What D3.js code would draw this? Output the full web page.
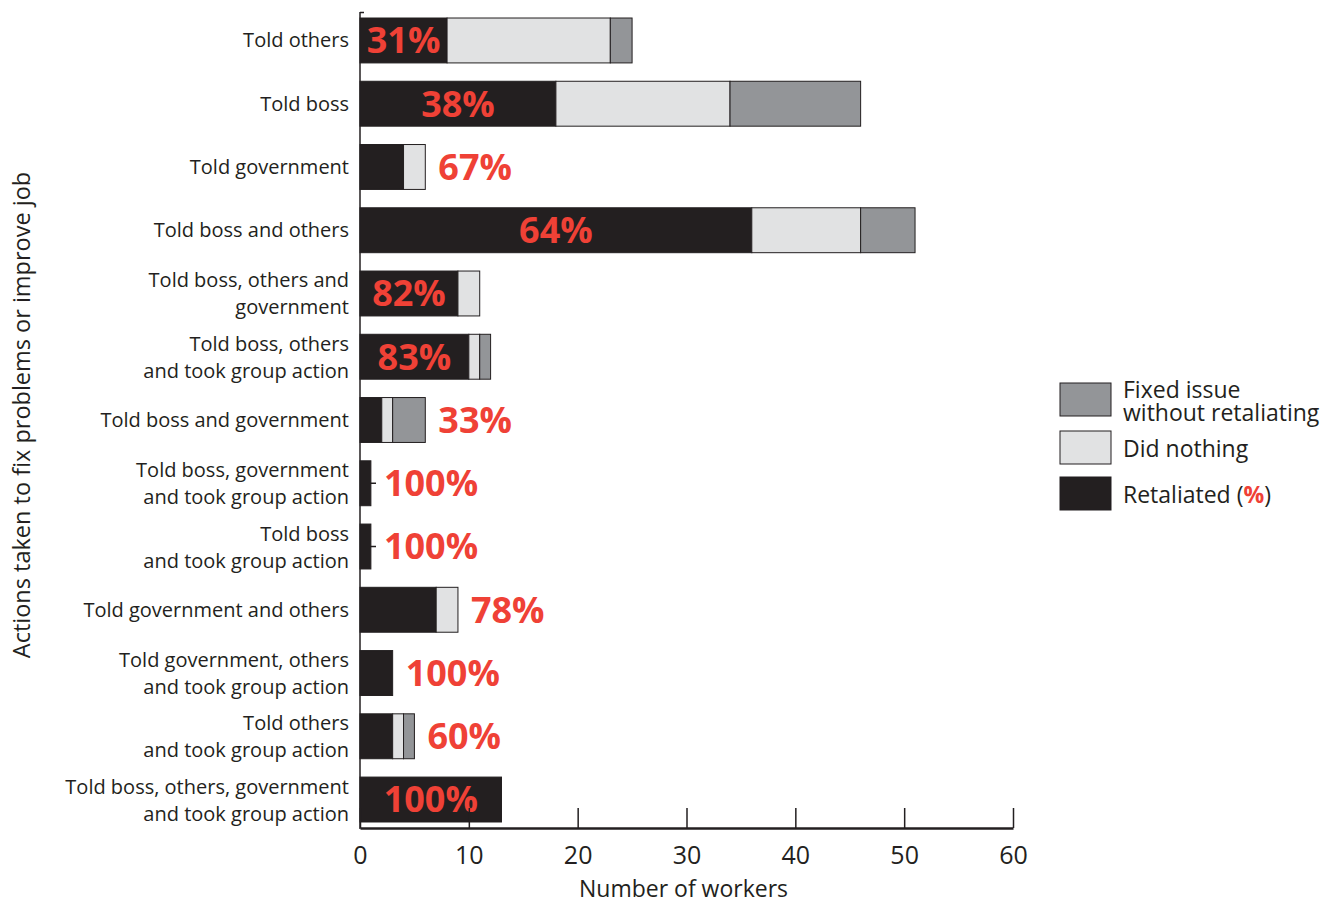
<!DOCTYPE html>
<html>
<head>
<meta charset="utf-8">
<script src="https://cdn.jsdelivr.net/npm/d3@7"></script>
<style>
  body { margin: 0; background: #fff; }
  svg text { font-family: "Open Sans", "Noto Sans", sans-serif; fill: #231f20; }
</style>
</head>
<body>
<svg id="chart" width="1342" height="905"></svg>
<script>
let categories = [
    ["Told others"],
    ["Told boss"],
    ["Told government"],
    ["Told boss and others"],
    ["Told boss, others and", "government"],
    ["Told boss, others", "and took group action"],
    ["Told boss and government"],
    ["Told boss, government", "and took group action"],
    ["Told boss", "and took group action"],
    ["Told government and others"],
    ["Told government, others", "and took group action"],
    ["Told others", "and took group action"],
    ["Told boss, others, government", "and took group action"]
];
let retaliated = [8, 18, 4, 36, 9, 10, 2, 1, 1, 7, 3, 3, 13];
let didNothing = [15, 16, 2, 10, 2, 1, 1, 0, 0, 2, 0, 1, 0];
let fixedIssue = [2, 12, 0, 5, 0, 1, 3, 0, 0, 0, 0, 1, 0];
let pctLabels = ["31%", "38%", "67%", "64%", "82%", "83%", "33%", "100%", "100%", "78%", "100%", "60%", "100%"];
let xTicks = [0, 10, 20, 30, 40, 50, 60];

let black = '#231f20';
let light = '#e1e2e3';
let mid = '#939598';
let red = '#ef4136';

let svg = d3.select('#chart');

let keys = categories.map((c, i) => i);

let x = d3.scaleLinear().domain([0, 60]).range([360, 1013]);
let y = d3.scaleBand()
    .domain(keys)
    .range([12, 828])
    .paddingInner(0.29)
    .paddingOuter(0.095);

// y axis ticks (hidden behind bars mostly)
svg.append('g')
    .selectAll('line')
    .data(keys)
    .enter()
    .append('line')
    .attr('x1', x(0))
    .attr('x2', x(0) + 16)
    .attr('y1', d => y(d) + y.bandwidth() / 2)
    .attr('y2', d => y(d) + y.bandwidth() / 2)
    .attr('stroke', black)
    .attr('stroke-width', 1.5);

let rows = keys.map(i => ({
    i: i,
    segs: [
        {x0: 0, x1: retaliated[i], fill: black},
        {x0: retaliated[i], x1: retaliated[i] + didNothing[i], fill: light},
        {x0: retaliated[i] + didNothing[i], x1: retaliated[i] + didNothing[i] + fixedIssue[i], fill: mid}
    ].filter(s => s.x1 > s.x0)
}));

let barG = svg.append('g')
    .selectAll('g')
    .data(rows)
    .enter()
    .append('g');

barG.selectAll('rect')
    .data(d => d.segs.map(s => Object.assign({i: d.i}, s)))
    .enter()
    .append('rect')
    .attr('x', d => x(d.x0))
    .attr('y', d => y(d.i))
    .attr('width', d => x(d.x1) - x(d.x0))
    .attr('height', y.bandwidth())
    .attr('fill', d => d.fill)
    .attr('stroke', black)
    .attr('stroke-width', 1);

// percent labels
let inside = i => x(retaliated[i]) - x(0) >= 80;
svg.append('g')
    .selectAll('text')
    .data(keys)
    .enter()
    .append('text')
    .attr('x', i => inside(i)
        ? (x(0) + x(retaliated[i])) / 2
        : x(retaliated[i] + didNothing[i] + fixedIssue[i]) + 13)
    .attr('text-anchor', i => inside(i) ? 'middle' : 'start')
    .attr('y', i => y(i) + y.bandwidth() / 2)
    .attr('dy', '0.36em')
    .style('fill', red)
    .style('font-weight', 'bold')
    .style('font-size', '36px')
    .text(i => pctLabels[i]);

// category labels
let catText = svg.append('g')
    .selectAll('text')
    .data(keys)
    .enter()
    .append('text')
    .attr('text-anchor', 'end')
    .style('font-size', '20px')
    .attr('y', i => y(i) + y.bandwidth() / 2);

catText.selectAll('tspan')
    .data(i => categories[i].map((t, j) => ({t: t, j: j, n: categories[i].length})))
    .enter()
    .append('tspan')
    .attr('x', 349)
    .attr('dy', d => d.j === 0 ? (d.n === 1 ? '0.35em' : '-0.3em') : '1.35em')
    .text(d => d.t);

// axes lines
svg.append('line')
    .attr('x1', x(0)).attr('x2', x(0))
    .attr('y1', 12).attr('y2', 829)
    .attr('stroke', black).attr('stroke-width', 1.5);
svg.append('line')
    .attr('x1', x(0)).attr('x2', x(0) + 4)
    .attr('y1', 12.5).attr('y2', 12.5)
    .attr('stroke', black).attr('stroke-width', 1.5);

let xAxis = d3.axisBottom(x)
    .tickValues(xTicks)
    .tickSize(-20)
    .tickSizeOuter(0)
    .tickPadding(18);

let xg = svg.append('g')
    .attr('transform', 'translate(0,828)')
    .call(xAxis);
xg.select('.domain').attr('stroke', black).attr('stroke-width', 2.5);
xg.selectAll('.tick line').attr('stroke', black).attr('stroke-width', 1.5);
xg.selectAll('.tick text')
    .style('font-size', '25px')
    .style('font-family', '"Open Sans", sans-serif')
    .attr('fill', black);

svg.append('text')
    .attr('x', x(30) - 3)
    .attr('y', 897)
    .attr('text-anchor', 'middle')
    .style('font-size', '23px')
    .text('Number of workers');

svg.append('text')
    .attr('transform', 'translate(30,415) rotate(-90)')
    .attr('text-anchor', 'middle')
    .style('font-size', '23.5px')
    .text('Actions taken to fix problems or improve job');

// legend
let legend = [
    {fill: mid, lines: ['Fixed issue', 'without retaliating'], y: 383},
    {fill: light, lines: ['Did nothing'], y: 431},
    {fill: black, lines: ['Retaliated ('], y: 477}
];

let lg = svg.append('g')
    .selectAll('g')
    .data(legend)
    .enter()
    .append('g');

lg.append('rect')
    .attr('x', 1060)
    .attr('y', d => d.y)
    .attr('width', 51)
    .attr('height', 33)
    .attr('fill', d => d.fill)
    .attr('stroke', black)
    .attr('stroke-width', 1);

let lt = lg.append('text')
    .attr('x', 1123)
    .attr('y', d => d.lines.length > 1 ? d.y + 15 : d.y + 26)
    .style('font-size', '23px');

lt.each(function(d) {
    let t = d3.select(this);
    d.lines.forEach((line, j) => {
        t.append('tspan')
            .attr('x', 1123)
            .attr('dy', j === 0 ? 0 : 23)
            .text(line);
    });
    if (d.fill === black) {
        t.append('tspan').style('fill', red).style('font-weight', 'bold').text('%');
        t.append('tspan').text(')');
    }
});
</script>
</body>
</html>
